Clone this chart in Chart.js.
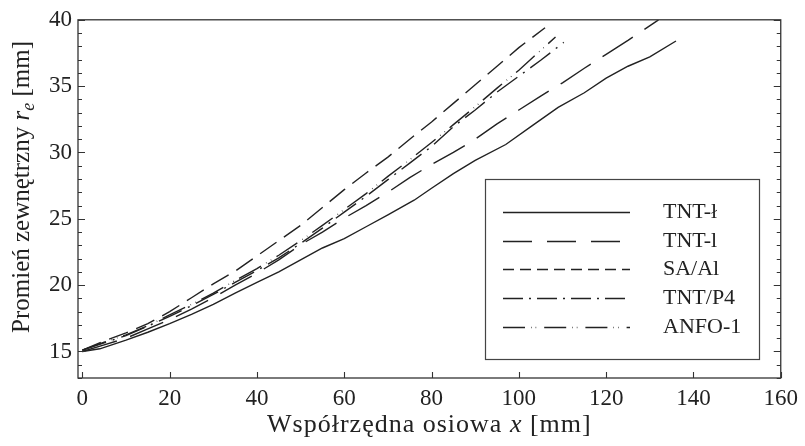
<!DOCTYPE html>
<html>
<head>
<meta charset="utf-8">
<script src="https://cdn.jsdelivr.net/npm/chart.js@4.4.0/dist/chart.umd.min.js"></script>
<style>
  html, body { margin: 0; padding: 0; background: #fff; }
  #wrap { width: 805px; height: 446px; }
</style>
</head>
<body>
<div id="wrap"><canvas id="chart" width="805" height="446"></canvas></div>
<script>
// ── DATA ──
const xTickValues = [0, 20, 40, 60, 80, 100, 120, 140, 160];
const yLabelStep = 5;

const seriesNames = ['TNT-ł', 'TNT-l', 'SA/Al', 'TNT/P4', 'ANFO-1'];

const tntLwX = [0, 4, 10, 15, 20, 25, 30, 35, 40, 45, 50, 55, 60, 65, 70, 76, 80, 85, 90, 97, 103, 109, 115, 120, 125, 130, 136];
const tntLwY = [15.0, 15.2, 15.85, 16.45, 17.1, 17.8, 18.55, 19.4, 20.2, 21.0, 21.9, 22.8, 23.5, 24.4, 25.3, 26.4, 27.3, 28.4, 29.4, 30.6, 32.0, 33.4, 34.5, 35.6, 36.5, 37.2, 38.4];

const tntLX = [0, 5, 10, 15, 20, 25, 30, 35, 40, 45, 50, 55, 60, 65, 70, 75, 80, 85, 90, 95, 100, 105, 110, 115, 120, 125, 132];
const tntLY = [15.0, 15.5, 16.0, 16.7, 17.4, 18.2, 19.05, 20.0, 20.9, 21.9, 23.05, 24.0, 25.05, 26.0, 27.0, 28.1, 29.1, 30.0, 31.0, 32.15, 33.2, 34.25, 35.25, 36.35, 37.4, 38.45, 40.0];

const saAlX = [0, 5, 10, 15, 20, 25, 30, 35, 40, 45, 50, 55, 60, 65, 70, 75, 80, 85, 90, 95, 100, 106];
const saAlY = [15.1, 15.8, 16.4, 17.1, 18.0, 19.05, 20.1, 21.05, 22.2, 23.35, 24.5, 25.85, 27.2, 28.45, 29.65, 31.0, 32.3, 33.7, 35.1, 36.5, 37.9, 39.4];

const tntP4X = [0, 5, 10, 15, 20, 25, 30, 35, 40, 45, 50, 55, 60, 65, 70, 75, 80, 85, 90, 95, 100, 105, 110.3];
const tntP4Y = [15.1, 15.65, 16.2, 16.9, 17.65, 18.45, 19.3, 20.2, 21.1, 22.05, 23.15, 24.3, 25.5, 26.7, 27.95, 29.2, 30.45, 31.95, 33.2, 34.55, 35.75, 36.95, 38.3];

const anfoX = [0, 5, 10, 15, 20, 25, 30, 35, 40, 45, 50, 55, 60, 65, 70, 75, 80, 85, 90, 95, 100, 104, 108.4];
const anfoY = [15.1, 15.7, 16.25, 16.95, 17.75, 18.55, 19.4, 20.35, 21.25, 22.25, 23.35, 24.5, 25.7, 26.9, 28.2, 29.45, 30.75, 32.1, 33.45, 34.85, 36.2, 37.4, 38.7];

const ink = '#222';
const serif = '"Liberation Serif", "Times New Roman", serif';

function pts(xs, ys) {
    return xs.map((x, i) => ({ x: x, y: ys[i] }));
}

function lineSet(label, xs, ys, dash, legendDash) {
    return {
        label: label,
        data: pts(xs, ys),
        borderColor: ink,
        borderWidth: 1.4,
        borderDash: dash,
        legendDash: legendDash,
        pointRadius: 0,
        fill: false,
        tension: 0
    };
}

// draw a row of text pieces with different fonts, centred on (cx, cy)
function drawRuns(ctx, runs, cx, cy, spacing) {
    ctx.letterSpacing = (spacing || 0) + 'px';
    let total = 0;
    runs.forEach(r => { ctx.font = r.font; total += ctx.measureText(r.text).width; });
    let x = cx - total / 2;
    ctx.textAlign = 'left';
    ctx.textBaseline = 'alphabetic';
    runs.forEach(r => {
        ctx.font = r.font;
        ctx.fillText(r.text, x, cy + (r.dy || 0));
        x += ctx.measureText(r.text).width;
    });
    ctx.letterSpacing = '0px';
}

// ── frame, inward tick marks, axis titles, boxed legend ──
const decorPlugin = {
    id: 'decor',
    afterDatasetsDraw(chart) {
        const { ctx, chartArea: a, scales } = chart;
        const xs = scales.x, ys = scales.y;
        ctx.save();
        ctx.strokeStyle = '#333';
        ctx.lineWidth = 1.3;
        ctx.strokeRect(a.left, a.top, a.right - a.left, a.bottom - a.top);

        ctx.lineWidth = 1.1;
        ctx.beginPath();
        ys.ticks.forEach(t => {
            const py = Math.round(ys.getPixelForValue(t.value)) + 0.5;
            const len = t.value % yLabelStep === 0 ? 7 : 4;
            ctx.moveTo(a.left, py); ctx.lineTo(a.left + len, py);
            ctx.moveTo(a.right, py); ctx.lineTo(a.right - len, py);
        });
        xs.ticks.forEach(t => {
            const px = Math.round(xs.getPixelForValue(t.value)) + 0.5;
            ctx.moveTo(px, a.bottom); ctx.lineTo(px, a.bottom - 6);
        });
        ctx.stroke();

        // axis titles
        ctx.fillStyle = ink;
        drawRuns(ctx, [
            { text: 'Współrzędna osiowa ', font: '26px ' + serif },
            { text: 'x', font: 'italic 26px ' + serif },
            { text: ' [mm]', font: '26px ' + serif }
        ], (a.left + a.right) / 2, 432, 1);

        ctx.save();
        ctx.translate(29, 187);
        ctx.rotate(-Math.PI / 2);
        drawRuns(ctx, [
            { text: 'Promień zewnętrzny ', font: '25px ' + serif },
            { text: 'r', font: 'italic 25px ' + serif },
            { text: 'e', font: 'italic 18px ' + serif, dy: 5 },
            { text: ' [mm]', font: '25px ' + serif }
        ], 0, 0, 0);
        ctx.restore();

        // legend box
        const o = chart.options.plugins.decor;
        ctx.fillStyle = '#fff';
        ctx.fillRect(o.boxLeft, o.boxTop, o.boxRight - o.boxLeft, o.boxBottom - o.boxTop);
        ctx.strokeStyle = '#444';
        ctx.lineWidth = 1.2;
        ctx.strokeRect(o.boxLeft + 0.5, o.boxTop + 0.5, o.boxRight - o.boxLeft, o.boxBottom - o.boxTop);

        chart.data.datasets.forEach((ds, i) => {
            const y = Math.round(o.rowTop + i * o.rowGap) + 0.5;
            ctx.strokeStyle = ink;
            ctx.lineWidth = 1.4;
            ctx.setLineDash(ds.legendDash);
            ctx.beginPath();
            ctx.moveTo(o.sampleLeft, y);
            ctx.lineTo(o.sampleRight, y);
            ctx.stroke();
            ctx.setLineDash([]);
            ctx.fillStyle = ink;
            ctx.font = '22px ' + serif;
            ctx.textAlign = 'left';
            ctx.textBaseline = 'middle';
            ctx.fillText(ds.label, o.textLeft, y);
        });
        ctx.restore();
    }
};

new Chart(document.getElementById('chart').getContext('2d'), {
    type: 'line',
    data: {
        datasets: [
            lineSet(seriesNames[0], tntLwX, tntLwY, [], []),
            lineSet(seriesNames[1], tntLX, tntLY, [36, 14], [29, 15]),
            lineSet(seriesNames[2], saAlX, saAlY, [20, 9], [11, 6]),
            lineSet(seriesNames[3], tntP4X, tntP4Y, [25, 7, 2, 7], [20, 6, 2, 6]),
            lineSet(seriesNames[4], anfoX, anfoY, [25, 6, 0.6, 5, 0.6, 6], [22, 6, 0.6, 4, 0.6, 8])
        ]
    },
    options: {
        responsive: false,
        animation: false,
        layout: { padding: { top: 19, right: 18, left: 0, bottom: 0 } },
        scales: {
            x: {
                type: 'linear',
                min: -1, max: 160,
                afterBuildTicks: s => { s.ticks = xTickValues.map(v => ({ value: v })); },
                afterFit: s => { s.height = 68; },
                grid: { display: false, drawTicks: false },
                border: { display: false },
                ticks: { color: ink, padding: 7, font: { family: serif, size: 23 }, maxRotation: 0, autoSkip: false }
            },
            y: {
                min: 13, max: 40,
                afterFit: s => { s.width = 78; },
                grid: { display: false, drawTicks: false },
                border: { display: false },
                ticks: {
                    stepSize: 1,
                    autoSkip: false,
                    color: ink,
                    padding: 6,
                    font: { family: serif, size: 23 },
                    callback: v => (v % yLabelStep === 0 ? v : '')
                }
            }
        },
        plugins: {
            legend: { display: false },
            tooltip: { enabled: false },
            decor: {
                boxLeft: 485, boxTop: 179, boxRight: 759, boxBottom: 359,
                sampleLeft: 503, sampleRight: 630, textLeft: 663,
                rowTop: 212, rowGap: 28.7
            }
        }
    },
    plugins: [decorPlugin]
});
</script>
</body>
</html>
